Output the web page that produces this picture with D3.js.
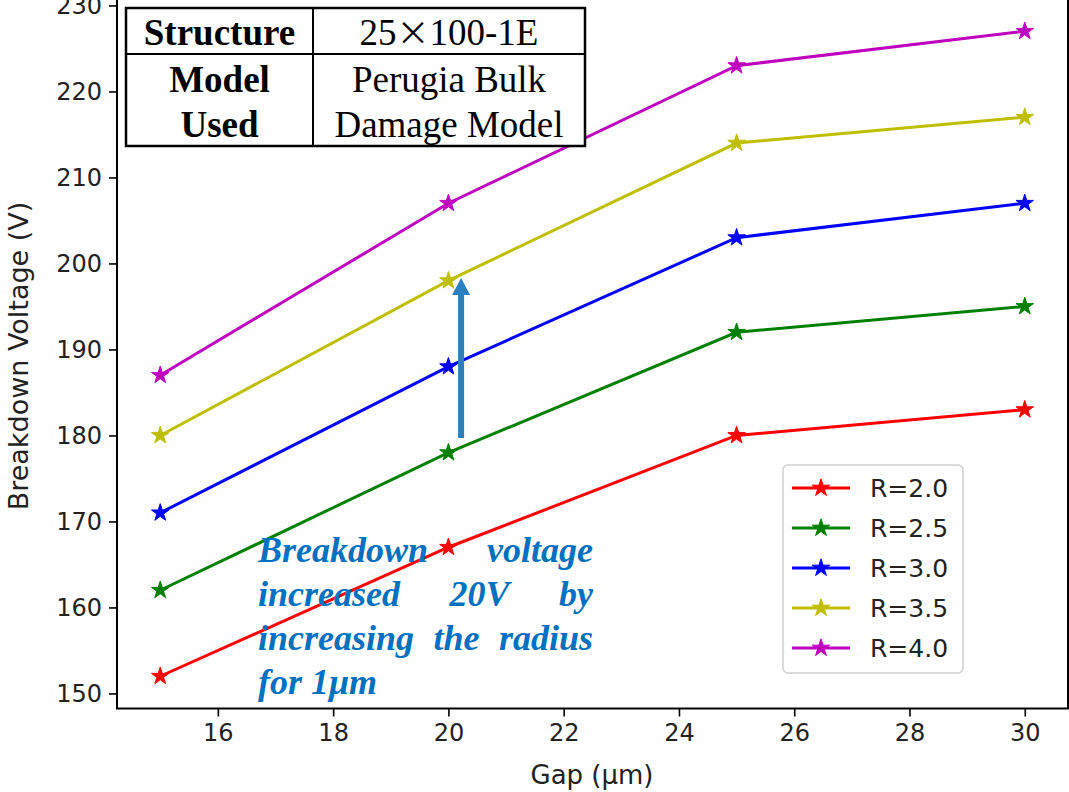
<!DOCTYPE html>
<html>
<head>
<meta charset="utf-8">
<script src="https://cdn.jsdelivr.net/npm/d3@7"></script>
<style>
  body { margin: 0; background: #fff; }
  svg { display: block; }
</style>
</head>
<body>
<svg id="chart"></svg>
<script>
const width = 1069;
const height = 792;

// data
const gaps = [15, 20, 25, 30];
const radii = ['R=2.0', 'R=2.5', 'R=3.0', 'R=3.5', 'R=4.0'];
const r20 = [152, 167, 180, 183];
const r25 = [162, 178, 192, 195];
const r30 = [171, 188, 203, 207];
const r35 = [180, 198, 214, 217];
const r40 = [187, 207, 223, 227];
const colors = ['#ff0000', '#008000', '#0000ff', '#bfbf00', '#bf00bf'];
const xTicks = [16, 18, 20, 22, 24, 26, 28, 30];
const yTicks = [150, 160, 170, 180, 190, 200, 210, 220, 230];

const tableRows = [
  ['Structure', ['25|×|100-1E']],
  ['Model/Used', ['Perugia Bulk', 'Damage Model']]
];
const noteLines = ['Breakdown voltage', 'increased 20V by', 'increasing the radius', 'for 1μm'];
const arrowFrom = [20.22, 179.7];
const arrowTo = [20.22, 198.3];

const series = [r20, r25, r30, r35, r40].map((vals, i) => ({
  name: radii[i],
  color: colors[i],
  values: vals.map((v, j) => [gaps[j], v])
}));

const svg = d3.select('#chart')
  .attr('width', width)
  .attr('height', height);

const xScale = d3.scaleLinear()
  .domain([14.25, 30.75])
  .range([117, 1068]);

const yScale = d3.scaleLinear()
  .domain([148.25, 230.75])
  .range([708.5, -1]);

const axisFont = '"DejaVu Sans", sans-serif';
const serif = '"Liberation Serif", "Times New Roman", serif';

// axes
const xAxis = svg.append('g')
  .attr('transform', `translate(0, ${yScale.range()[0]})`)
  .call(d3.axisBottom(xScale).tickValues(xTicks).tickSize(8).tickPadding(7).tickFormat(d3.format('d')));

const yAxis = svg.append('g')
  .attr('transform', `translate(${xScale.range()[0]}, 0)`)
  .call(d3.axisLeft(yScale).tickValues(yTicks).tickSize(8).tickPadding(7).tickFormat(d3.format('d')));

[xAxis, yAxis].forEach((g) => {
  g.select('.domain').remove();
  g.selectAll('line').attr('stroke', '#000').attr('stroke-width', 1.6);
  g.selectAll('text')
    .attr('fill', '#222')
    .style('font-family', axisFont)
    .style('font-size', '24px');
});

// spines
svg.append('rect')
  .attr('x', xScale.range()[0])
  .attr('y', yScale.range()[1])
  .attr('width', xScale.range()[1] - xScale.range()[0])
  .attr('height', yScale.range()[0] - yScale.range()[1])
  .attr('fill', 'none')
  .attr('stroke', '#000')
  .attr('stroke-width', 2);

svg.append('text')
  .attr('x', 592)
  .attr('y', 784)
  .attr('text-anchor', 'middle')
  .style('font-family', axisFont)
  .style('font-size', '26px')
  .attr('fill', '#222')
  .text('Gap (μm)');

svg.append('text')
  .attr('transform', 'translate(28, 356) rotate(-90)')
  .attr('text-anchor', 'middle')
  .style('font-family', axisFont)
  .style('font-size', '27px')
  .attr('fill', '#222')
  .text('Breakdown Voltage (V)');

// lines + star markers
const line = d3.line()
  .x((d) => xScale(d[0]))
  .y((d) => yScale(d[1]));

const star = d3.symbol().type(d3.symbolStar).size(95);

const lines = svg.append('g');
series.forEach((s) => {
  lines.append('path')
    .datum(s.values)
    .attr('d', line)
    .attr('fill', 'none')
    .attr('stroke', s.color)
    .attr('stroke-width', 3);

  lines.selectAll(null)
    .data(s.values)
    .enter()
    .append('path')
    .attr('d', star)
    .attr('transform', (d) => `translate(${xScale(d[0])}, ${yScale(d[1])})`)
    .attr('fill', s.color)
    .attr('stroke', s.color)
    .attr('stroke-width', 1);
});

// blue arrow
const arrowColor = '#2a7fc1';
const ax = xScale(arrowFrom[0]);
const ay0 = yScale(arrowFrom[1]);
const ay1 = yScale(arrowTo[1]);
svg.append('line')
  .attr('x1', ax).attr('x2', ax)
  .attr('y1', ay0).attr('y2', ay1 + 14)
  .attr('stroke', arrowColor)
  .attr('stroke-width', 6);
svg.append('path')
  .attr('d', `M${ax},${ay1} L${ax + 9},${ay1 + 17} L${ax - 9},${ay1 + 17} Z`)
  .attr('fill', arrowColor);

// justified annotation
const note = svg.append('g')
  .style('font-family', serif)
  .style('font-size', '36px')
  .style('font-weight', 'bold')
  .style('font-style', 'italic')
  .attr('fill', '#0070c0');

const noteLeft = 258;
const noteRight = 593;
noteLines.forEach((txt, i) => {
  const y = 562 + i * 44;
  const words = txt.split(' ');
  const last = i === noteLines.length - 1;
  const nodes = words.map((w) => note.append('text').attr('y', y).text(w));
  const widths = nodes.map((n) => n.node().getComputedTextLength());
  const total = d3.sum(widths);
  const gap = last ? 9 : (noteRight - noteLeft - total) / (words.length - 1);
  let x = noteLeft;
  nodes.forEach((n, k) => {
    n.attr('x', x);
    x += widths[k] + gap;
  });
});

// table in the top left corner
const table = svg.append('g');
const colX = [126, 313, 585];
const rowY = [8, 54, 146];

table.append('rect')
  .attr('x', colX[0]).attr('y', rowY[0])
  .attr('width', colX[2] - colX[0]).attr('height', rowY[2] - rowY[0])
  .attr('fill', '#fff')
  .attr('stroke', '#000')
  .attr('stroke-width', 2.5);
table.append('line')
  .attr('x1', colX[1]).attr('x2', colX[1])
  .attr('y1', rowY[0]).attr('y2', rowY[2])
  .attr('stroke', '#000').attr('stroke-width', 2);
table.append('line')
  .attr('x1', colX[0]).attr('x2', colX[2])
  .attr('y1', rowY[1]).attr('y2', rowY[1])
  .attr('stroke', '#000').attr('stroke-width', 2);

tableRows.forEach(([head, cells], r) => {
  const base = r === 0 ? 45 : 92;
  head.split('/').forEach((t, k) => {
    table.append('text')
      .attr('x', (colX[0] + colX[1]) / 2)
      .attr('y', base + k * 45)
      .attr('text-anchor', 'middle')
      .style('font-family', serif)
      .style('font-weight', 'bold')
      .style('font-size', '37px')
      .text(t);
  });
  cells.forEach((t, k) => {
    const cell = table.append('text')
      .attr('x', (colX[1] + colX[2]) / 2)
      .attr('y', base + k * 45)
      .attr('text-anchor', 'middle')
      .style('font-family', serif)
      .style('font-size', '37px');
    // the times sign in the source is a full-width glyph
    t.split('|').forEach((part) => {
      const ts = cell.append('tspan').text(part);
      if (part === '×') ts.style('font-family', '"Noto Sans CJK SC", sans-serif').style('font-size', '33px');
    });
  });
});

// legend
const legend = svg.append('g').attr('transform', 'translate(783, 465)');
legend.append('rect')
  .attr('width', 180)
  .attr('height', 208)
  .attr('rx', 5)
  .attr('fill', '#fff')
  .attr('fill-opacity', 0.8)
  .attr('stroke', '#d0d0d0')
  .attr('stroke-width', 1.5);

const items = legend.selectAll('g.item')
  .data(series)
  .enter()
  .append('g')
  .attr('class', 'item')
  .attr('transform', (d, i) => `translate(0, ${23 + i * 40})`);

items.append('line')
  .attr('x1', 9).attr('x2', 67)
  .attr('stroke', (d) => d.color)
  .attr('stroke-width', 3);
items.append('path')
  .attr('d', star)
  .attr('transform', 'translate(38, 0)')
  .attr('fill', (d) => d.color)
  .attr('stroke', (d) => d.color)
  .attr('stroke-width', 1);
items.append('text')
  .attr('x', 87)
  .attr('dy', '0.36em')
  .style('font-family', axisFont)
  .style('font-size', '25px')
  .attr('fill', '#222')
  .text((d) => d.name);
</script>
</body>
</html>
